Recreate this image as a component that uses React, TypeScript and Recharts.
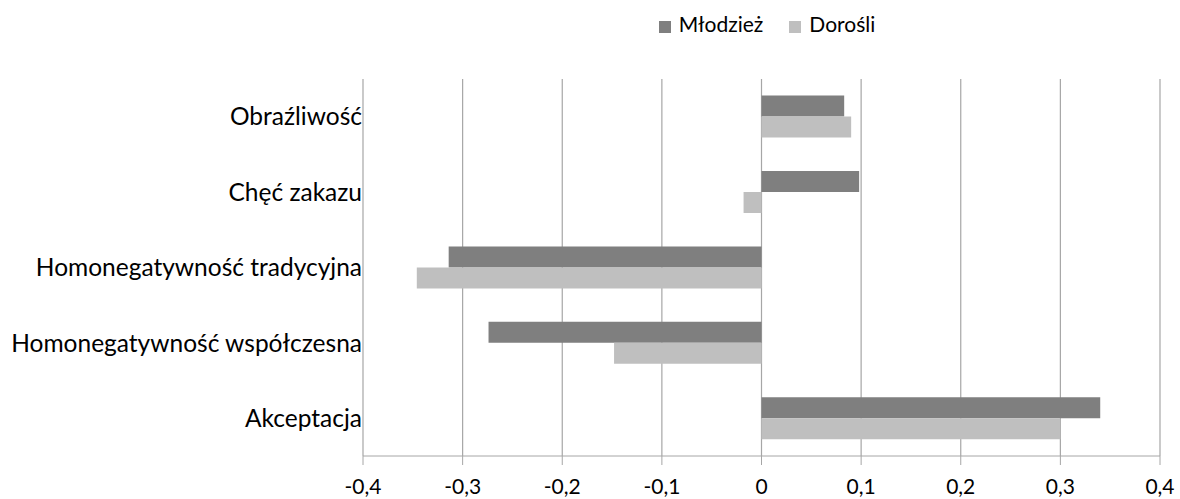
import React from 'react';
import { Bar, BarChart, CartesianGrid, Legend, XAxis, YAxis } from 'recharts';

document.body.style.margin = '0';

const categories = [
  'Obraźliwość',
  'Chęć zakazu',
  'Homonegatywność tradycyjna',
  'Homonegatywność współczesna',
  'Akceptacja',
];
const mlodziez = [0.083, 0.098, -0.314, -0.274, 0.34];
const dorosli = [0.09, -0.018, -0.346, -0.148, 0.3];
const xTicks = [-0.4, -0.3, -0.2, -0.1, 0, 0.1, 0.2, 0.3, 0.4];
const seriesOrder = ['mlodziez', 'dorosli'];

const data = categories.map((name, i) => ({
  name,
  mlodziez: mlodziez[i],
  dorosli: dorosli[i],
}));

const font = 'Lato, sans-serif';

export default function App() {
  return (
    <div style={{ width: 1180, height: 499, background: '#fff', fontFamily: font }}>
      <BarChart
        width={1180}
        height={499}
        data={data}
        layout="vertical"
        margin={{ top: 54, right: 20, left: 0, bottom: 0 }}
        barCategoryGap="22%"
        barGap={0}
      >
        <CartesianGrid horizontal={false} stroke="#a6a6a6" strokeWidth={1.2} />
        <XAxis
          type="number"
          domain={[-0.4, 0.4]}
          ticks={xTicks}
          tickFormatter={(v: number) => String(v).replace('.', ',')}
          stroke="#a6a6a6"
          tickLine={{ stroke: '#a6a6a6' }}
          tickSize={9}
          tick={{ fill: '#000', fontSize: 21, fontFamily: font }}
          height={43}
          tickMargin={14}
        />
        <YAxis
          type="category"
          dataKey="name"
          width={363}
          axisLine={false}
          tickLine={false}
          tickSize={0}
          tick={{ fill: '#000', fontSize: 24.5, fontFamily: font }}
          tickMargin={1}
        />
        <Legend
          verticalAlign="top"
          align="center"
          iconType="square"
          iconSize={12}
          itemSorter={(item: any) => seriesOrder.indexOf(item.dataKey)}
          wrapperStyle={{ top: 11, left: 200, fontSize: 21, fontFamily: font }}
          formatter={(value: string) => (
            <span style={{ color: '#000', marginLeft: 4, marginRight: 16 }}>{value}</span>
          )}
        />
        <Bar dataKey="mlodziez" name="Młodzież" fill="#7f7f7f" isAnimationActive={false} />
        <Bar dataKey="dorosli" name="Dorośli" fill="#bfbfbf" isAnimationActive={false} />
      </BarChart>
    </div>
  );
}
